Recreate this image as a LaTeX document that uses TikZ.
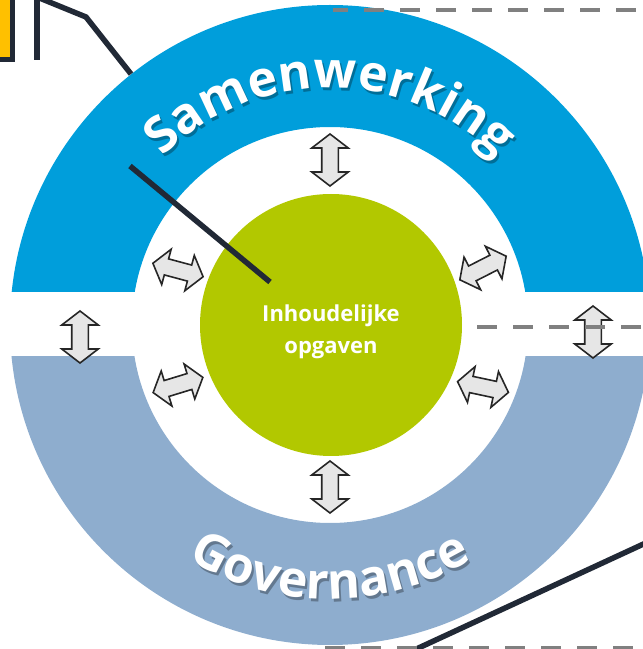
\documentclass[tikz,border=0pt]{standalone}
\usepackage{fontspec}
\newfontfamily\opensans{Open Sans}
\usetikzlibrary{shapes.arrows,decorations.text}

\definecolor{samenblue}{RGB}{0,158,219}
\definecolor{govblue}{RGB}{142,173,206}
\definecolor{opgroen}{RGB}{178,200,0}
\definecolor{pijlgrijs}{RGB}{230,230,230}
\definecolor{pijlrand}{RGB}{38,38,38}
\definecolor{navy}{RGB}{33,41,54}
\definecolor{streepgrijs}{RGB}{128,128,128}
\definecolor{geel}{RGB}{255,192,0}

\newcommand\boogfont{\opensans\bfseries\fontsize{50}{60}\selectfont}
\newcommand\schacht{\rule{0pt}{15pt}}

\tikzset{
  pijl/.style={double arrow, draw=pijlrand, fill=pijlgrijs, line width=1.6pt,
    minimum height=52pt, minimum width=0pt, double arrow head extend=10pt,
    double arrow tip angle=105, inner sep=0pt, outer sep=0pt},
  callout/.style={navy, line width=5.5pt},
  streep/.style={streepgrijs, line width=4pt, dash pattern=on 20pt off 16pt}
}

\begin{document}
\begin{tikzpicture}[x=1pt,y=1pt]
  \useasboundingbox (0,0) rectangle (643,649);
  \clip (0,0) rectangle (643,649);
  \coordinate (m) at (330,324);

  % ringhelften
  \begin{scope}
    \clip (0,357) rectangle (643,649);
    \fill[samenblue,even odd rule] (m) circle (320) (m) circle (198);
  \end{scope}
  \begin{scope}
    \clip (0,0) rectangle (643,292);
    \fill[govblue,even odd rule] (m) circle (320) (m) circle (198);
  \end{scope}

  % tekst langs de ring
  \begin{scope}[opacity=.3]
    \path[decorate,decoration={text along path,text align=center,text color=black,
      text={|\boogfont|Samenwerking}}] ([shift={(2,-3)}]m) ++(175:237) arc[start angle=175,end angle=5,radius=237];
    \path[decorate,decoration={text along path,text align=center,text color=black,
      text={|\boogfont|Governance}}] ([shift={(2,-3)}]m) ++(185:274) arc[start angle=185,end angle=355,radius=274];
  \end{scope}
  \path[decorate,decoration={text along path,text align=center,text color=white,
    text={|\boogfont|Samenwerking}}] (m) ++(175:237) arc[start angle=175,end angle=5,radius=237];
  \path[decorate,decoration={text along path,text align=center,text color=white,
    text={|\boogfont|Governance}}] (m) ++(185:274) arc[start angle=185,end angle=355,radius=274];

  \node[circle, fill=opgroen, minimum size=262pt, inner sep=0pt] (opgaven) at (331,324) {};
  \node[text=white, align=center, font=\opensans\bfseries\fontsize{22}{32}\selectfont]
    (opgaventekst) at ([yshift=-7pt]opgaven.center) {Inhoudelijke\\opgaven};

  % pijlen
  \node[pijl, rotate=90] (pijlboven) at (330,489) {\schacht};
  \node[pijl, rotate=90] (pijlonder) at (330,162) {\schacht};
  \node[pijl, rotate=90] (pijllinks) at (80,312) {\schacht};
  \node[pijl, rotate=90] (pijlrechts) at (593,317) {\schacht};
  \node[pijl, rotate=-15] (pijllb) at (178,379) {\schacht};
  \node[pijl, rotate=27] (pijlrb) at (483,381) {\schacht};
  \node[pijl, rotate=17] (pijllo) at (178,264) {\schacht};
  \node[pijl, rotate=-12] (pijlro) at (483,262) {\schacht};

  % verwijzingen
  \filldraw[fill=geel, draw=navy, line width=5pt] (-20,700) rectangle (12.5,589.5);
  \coordinate (vert1) at (37,652);
  \coordinate (vert2) at (37,589);
  \coordinate (lijn1a) at (37,652);
  \coordinate (lijn1b) at (86,632);
  \coordinate (lijn1c) at (131,575);
  \coordinate (lijn2a) at (130,483);
  \coordinate (lijn2b) at (270,367);
  \coordinate (lijn3a) at (412,-2);
  \coordinate (lijn3b) at (650,108);
  \draw[callout] (vert1) -- (vert2);
  \draw[callout] (lijn1a) -- (lijn1b) -- (lijn1c);
  \draw[callout] (lijn2a) -- (lijn2b);
  \draw[callout] (lijn3a) -- (lijn3b);

  \coordinate (streep1a) at (333,639);
  \coordinate (streep1b) at (650,639);
  \coordinate (streep2a) at (477,322);
  \coordinate (streep2b) at (650,322);
  \coordinate (streep3a) at (325,1);
  \coordinate (streep3b) at (650,1);
  \draw[streep, dash phase=5pt] (streep1a) -- (streep1b);
  \draw[streep] (streep2a) -- (streep2b);
  \draw[streep] (streep3a) -- (streep3b);
\end{tikzpicture}
\end{document}
